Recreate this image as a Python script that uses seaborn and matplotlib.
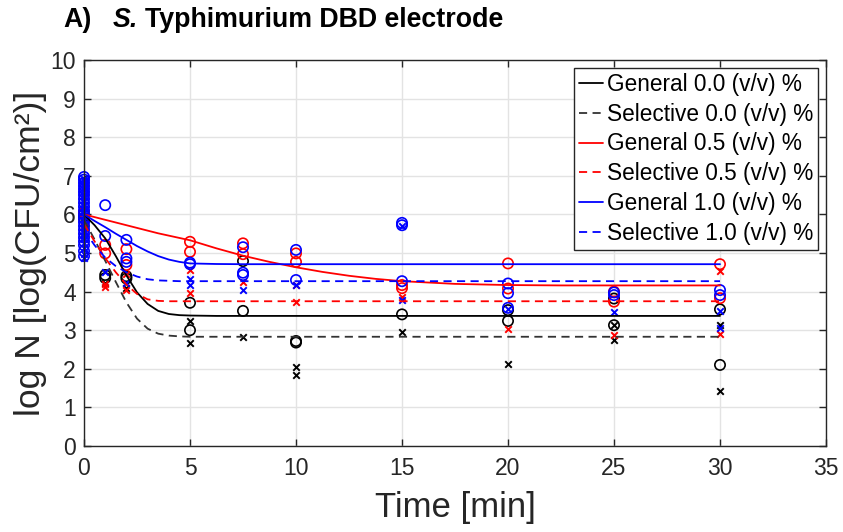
import seaborn as sns
import pandas as pd
import matplotlib
matplotlib.use("Agg")
from matplotlib import pyplot as plt

sns.set_style("whitegrid")
plt.rcParams['font.family'] = ['Liberation Sans', 'DejaVu Sans']

# fitted curves
curve_t = [0, 0.5, 1, 1.5, 2, 2.5, 3, 3.5, 4, 4.5, 5, 6.25, 7.5, 8.75, 10, 11.25, 12.5, 13.75,
           15, 17.5, 20, 22.5, 25, 30]
fit_gen_00 = [6.0, 5.72, 5.38, 4.92, 4.42, 3.98, 3.68, 3.5, 3.42, 3.39, 3.38, 3.37, 3.37, 3.37,
              3.37, 3.37, 3.37, 3.37, 3.37, 3.37, 3.37, 3.37, 3.37, 3.37]
fit_sel_00 = [5.85, 5.35, 4.8, 4.25, 3.72, 3.3, 3.04, 2.91, 2.86, 2.84, 2.83, 2.83, 2.83, 2.83,
              2.83, 2.83, 2.83, 2.83, 2.83, 2.83, 2.83, 2.83, 2.83, 2.83]
fit_gen_05 = [6.0, 5.93, 5.86, 5.79, 5.72, 5.65, 5.58, 5.51, 5.45, 5.39, 5.33, 5.12, 4.93, 4.77,
              4.63, 4.51, 4.41, 4.33, 4.27, 4.2, 4.17, 4.16, 4.16, 4.16]
fit_sel_05 = [5.75, 5.3, 4.87, 4.5, 4.18, 3.94, 3.8, 3.76, 3.75, 3.75, 3.75, 3.75, 3.75, 3.75,
              3.75, 3.75, 3.75, 3.75, 3.75, 3.75, 3.75, 3.75, 3.75, 3.75]
fit_gen_10 = [6.0, 5.83, 5.67, 5.5, 5.34, 5.18, 5.04, 4.92, 4.83, 4.77, 4.73, 4.715, 4.71, 4.71,
              4.71, 4.71, 4.71, 4.71, 4.71, 4.71, 4.71, 4.71, 4.71, 4.71]
fit_sel_10 = [5.6, 5.2, 4.88, 4.66, 4.5, 4.39, 4.32, 4.29, 4.28, 4.27, 4.27, 4.27, 4.27, 4.27,
              4.27, 4.27, 4.27, 4.27, 4.27, 4.27, 4.27, 4.27, 4.27, 4.27]

# measured points (time, log N)
gen_00_t = [0, 0, 1, 1, 2, 2, 5, 5, 7.5, 7.5, 10, 10, 15, 20, 20, 25, 25, 30, 30]
gen_00_y = [6.0, 5.9, 4.43, 4.35, 4.4, 4.34, 3.71, 3.0, 4.79, 3.5, 2.72, 2.68, 3.41, 3.52, 3.24, 3.82, 3.13, 3.54, 2.1]
sel_00_t = [0, 1, 2, 5, 5, 7.5, 10, 10, 15, 20, 25, 25, 30, 30]
sel_00_y = [5.8, 4.22, 4.1, 3.25, 2.68, 2.82, 2.05, 1.84, 2.95, 2.12, 3.13, 2.75, 3.13, 1.43]

gen_05_t = [0, 1, 1, 2, 2, 5, 5, 7.5, 7.5, 10, 10, 15, 15, 20, 20, 25, 25, 30, 30]
gen_05_y = [6.05, 5.21, 4.99, 5.1, 4.69, 5.29, 5.03, 5.25, 4.97, 4.99, 4.77, 4.17, 4.09, 4.73, 4.08, 4.0, 3.74, 4.71, 3.83]
sel_05_t = [0, 1, 1, 2, 2, 5, 5, 7.5, 10, 10, 15, 20, 25, 30, 30]
sel_05_y = [5.7, 4.13, 4.2, 4.46, 4.04, 4.56, 3.96, 4.26, 3.74, 4.17, 3.87, 3.02, 2.88, 4.54, 2.9]

gen_10_t = [0] * 22 + [1, 1, 2, 2, 2, 5, 5, 7.5, 7.5, 7.5, 10, 10, 15, 15, 15, 20, 20, 20, 25, 25, 30, 30]
gen_10_y = [6.97, 6.9, 6.82, 6.74, 6.66, 6.58, 6.5, 6.4, 6.3, 6.2, 6.1, 6.0, 5.9, 5.8, 5.7,
            5.6, 5.5, 5.4, 5.3, 5.2, 5.05, 4.92,
            6.24, 5.44, 5.34, 4.86, 4.77, 4.75, 4.71, 5.15, 4.49, 4.43, 5.08, 4.3,
            5.78, 5.72, 4.27, 4.21, 3.96, 3.58, 3.98, 3.91, 4.04, 3.91]
sel_10_t = [0] * 22 + [1, 2, 5, 5, 7.5, 10, 15, 15, 20, 25, 30, 30]
sel_10_y = [6.93, 6.86, 6.78, 6.7, 6.62, 6.54, 6.45, 6.35, 6.25, 6.15, 6.05, 5.95, 5.85, 5.75,
            5.65, 5.55, 5.45, 5.35, 5.25, 5.12, 4.98, 4.86,
            4.52, 4.21, 4.32, 4.17, 4.04, 4.17, 5.7, 3.78, 3.54, 3.48, 3.5, 3.05]

series = [
    ("General 0.0 (v/v) %", "black", "-", fit_gen_00, gen_00_t, gen_00_y, "o"),
    ("Selective 0.0 (v/v) %", "#333333", (0, (4.5, 3)), fit_sel_00, sel_00_t, sel_00_y, "x"),
    ("General 0.5 (v/v) %", "#ff0000", "-", fit_gen_05, gen_05_t, gen_05_y, "o"),
    ("Selective 0.5 (v/v) %", "#ff0000", (0, (4.5, 3)), fit_sel_05, sel_05_t, sel_05_y, "x"),
    ("General 1.0 (v/v) %", "#0000ff", "-", fit_gen_10, gen_10_t, gen_10_y, "o"),
    ("Selective 1.0 (v/v) %", "#0000ff", (0, (4.5, 3)), fit_sel_10, sel_10_t, sel_10_y, "x"),
]

fig = plt.figure(figsize=(8.43, 5.32), dpi=100)
ax = fig.add_axes([84 / 843, 1 - 446 / 532, 742 / 843, 386 / 532])

for label, col, ls, fit, pt, py, mk in series:
    pts = pd.DataFrame({"t": pt, "logN": py})
    mcol = "black" if col == "#333333" else col
    if mk == "o":
        sns.scatterplot(data=pts, x="t", y="logN", ax=ax, marker="o", s=55,
                        color=mcol, facecolor="none", edgecolor=mcol,
                        linewidth=1.2, zorder=3, legend=False, clip_on=False)
    else:
        sns.scatterplot(data=pts, x="t", y="logN", ax=ax, marker="x", s=22,
                        color=mcol, linewidth=1.4, zorder=3, legend=False, clip_on=False)

for label, col, ls, fit, pt, py, mk in series:
    curve = pd.DataFrame({"t": curve_t, "logN": fit})
    sns.lineplot(data=curve, x="t", y="logN", ax=ax, color=col, linestyle=ls,
                 linewidth=1.3, label=label, zorder=4)

ax.set_xlim(0, 35)
ax.set_ylim(0, 10)
ax.set_xticks(range(0, 36, 5))
ax.set_yticks(range(0, 11))
ax.grid(True, color="#e3e3e3", linewidth=1.0)
for s in ax.spines.values():
    s.set_color("#262626")
    s.set_linewidth(1.0)
    s.set_visible(True)
    s.set_zorder(5)
ax.tick_params(direction="in", length=5, width=1, color="#262626", labelcolor="#262626",
               labelsize=16.5, top=True, right=True, bottom=True, left=True)
ax.tick_params(axis="x", pad=8)
ax.tick_params(axis="y", pad=6)

ax.set_xlabel("Time [min]", fontsize=25, color="#262626", labelpad=8)
ax.set_ylabel("log N [log(CFU/cm²)]", fontsize=25.5, color="#262626", labelpad=2)

leg = ax.legend(loc="upper right", fontsize=16.3, frameon=True, fancybox=False,
                framealpha=1, edgecolor="#262626", handlelength=1.1,
                handletextpad=0.15, labelspacing=0.3, borderpad=0.22,
                borderaxespad=0.35)
leg.get_frame().set_linewidth(1.0)
leg.set_zorder(6)
for txt in leg.get_texts():
    txt.set_color("black")

fig.text(63 / 843, 1 - 20 / 532, "A)", fontsize=19.3, fontweight="bold", va="center",
         color="black")
fig.text(113 / 843, 1 - 20 / 532, "S.", fontsize=19.3, fontweight="bold",
         fontstyle="italic", va="center", color="black")
fig.text(145 / 843, 1 - 20 / 532, "Typhimurium DBD electrode", fontsize=19.3,
         fontweight="bold", va="center", color="black")

fig.savefig("out.png", dpi=100)
